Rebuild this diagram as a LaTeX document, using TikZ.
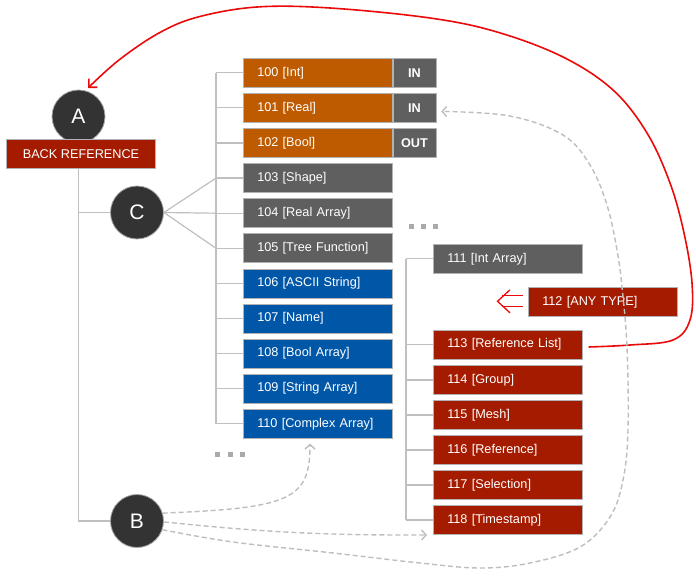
\documentclass[tikz,border=0pt]{standalone}
\usepackage{fontspec}
\setmainfont{Liberation Sans}
\usetikzlibrary{arrows.meta,calc}
\definecolor{orng}{RGB}{190,91,0}
\definecolor{gbox}{RGB}{95,95,95}
\definecolor{bbox}{RGB}{0,87,168}
\definecolor{rbox}{RGB}{165,27,0}
\definecolor{circ}{RGB}{51,51,51}
\definecolor{tline}{RGB}{192,192,192}
\definecolor{dline}{RGB}{190,190,190}
\definecolor{redc}{RGB}{235,10,10}
\definecolor{dotc}{RGB}{170,170,170}
\begin{document}
\begin{tikzpicture}[x=1pt,y=-1pt,
  tbox/.style={rectangle, anchor=west, minimum height=29pt, text width=121pt,
    inner xsep=14pt, inner ysep=0pt, align=left, text=white,
    font=\fontsize{12.7}{14}\selectfont, draw=black!30, line width=0.6pt},
  inbox/.style={rectangle, anchor=west, minimum height=29pt, minimum width=43pt,
    inner sep=0pt, fill=gbox, text=white, font=\fontsize{12.7}{14}\selectfont\bfseries,
    draw=black!30, line width=0.6pt},
  bigcirc/.style={circle, minimum size=53pt, inner sep=0pt, fill=circ, draw=black!35,
    line width=0.8pt, text=white, font=\fontsize{21}{24}\selectfont},
  tree/.style={draw=tline, line width=1.2pt},
  gdash/.style={draw=dline, line width=1.4pt, dash pattern=on 5pt off 3pt,
    -{Straight Barb[length=4.5pt,width=10pt,line width=1.4pt]}},
  redline/.style={draw=redc, line width=1.6pt,
    -{Straight Barb[length=6pt,width=12pt,line width=1.6pt]}},
  dotsq/.style={fill=dotc, minimum size=5pt, inner sep=0pt, rectangle}
]
\fill[white] (0,0) rectangle (696,577);
\useasboundingbox (0,0) rectangle (696,577);

% circles and back reference
\node[bigcirc] (A) at (78.5,116.5) {A};
\node[rectangle, minimum width=149.4pt, minimum height=29pt, inner sep=0pt, fill=rbox,
  draw=black!30, line width=0.6pt, text=white, font=\fontsize{12.7}{14}\selectfont]
  (br) at (81,153.8) {BACK REFERENCE};
\node[bigcirc] (C) at (137,212.5) {C};
\node[bigcirc] (B) at (137,521) {B};

% left column
\node[tbox, fill=orng] (n100) at (243,72.8) {100 [Int]};
\node[tbox, fill=orng] (n101) at (243,107.9) {101 [Real]};
\node[tbox, fill=orng] (n102) at (243,143.0) {102 [Bool]};
\node[inbox] (i100) at (n100.east) {IN};
\node[inbox] (i101) at (n101.east) {IN};
\node[inbox] (i102) at (n102.east) {OUT};
\node[tbox, fill=gbox] (n103) at (243,178.1) {103 [Shape]};
\node[tbox, fill=gbox] (n104) at (243,213.2) {104 [Real Array]};
\node[tbox, fill=gbox] (n105) at (243,248.3) {105 [Tree Function]};
\node[tbox, fill=bbox] (n106) at (243,283.4) {106 [ASCII String]};
\node[tbox, fill=bbox] (n107) at (243,318.5) {107 [Name]};
\node[tbox, fill=bbox] (n108) at (243,353.6) {108 [Bool Array]};
\node[tbox, fill=bbox] (n109) at (243,388.7) {109 [String Array]};
\node[tbox, fill=bbox] (n110) at (243,423.8) {110 [Complex Array]};

% right column
\node[tbox, fill=gbox] (n111) at (433,258.8) {111 [Int Array]};
\node[tbox, fill=rbox] (n112) at (528,301.8) {112 [ANY TYPE]};
\node[tbox, fill=rbox] (n113) at (433,344.5) {113 [Reference List]};
\node[tbox, fill=rbox] (n114) at (433,380) {114 [Group]};
\node[tbox, fill=rbox] (n115) at (433,415) {115 [Mesh]};
\node[tbox, fill=rbox] (n116) at (433,450) {116 [Reference]};
\node[tbox, fill=rbox] (n117) at (433,485) {117 [Selection]};
\node[tbox, fill=rbox] (n118) at (433,520) {118 [Timestamp]};

% ellipsis squares
\node[dotsq] (d1) at (411,227) {};
\node[dotsq] (d2) at (423,227) {};
\node[dotsq] (d3) at (435,227) {};
\node[dotsq] (d4) at (217.5,454) {};
\node[dotsq] (d5) at (230,454) {};
\node[dotsq] (d6) at (242.5,454) {};

% tree lines
\coordinate (lt0) at (78.5,0);
\coordinate (lt) at (216,0);
\coordinate (rt) at (406,0);
\draw[tree] (br.south -| lt0) -- (B.west -| lt0) -- (B.west);
\draw[tree] (C.west -| lt0) -- (C.west);
\draw[tree] (n100.west -| lt) -- (n110.west -| lt);
\foreach \n in {100,...,110} \draw[tree] (n\n.west) -- (n\n.west -| lt);
\draw[tree] (C.east) -- (n103.west -| lt);
\draw[tree] (C.east) -- (n104.west -| lt);
\draw[tree] (C.east) -- (n105.west -| lt);
\draw[tree] (n111.west -| rt) -- (n118.west -| rt);
\foreach \n in {111,113,114,115,116,117,118} \draw[tree] (n\n.west) -- (n\n.west -| rt);

% double arrow at 112
\coordinate (da) at ($(n112.west)+(-5,0)$);
\draw[redc, line width=1.3pt] ($(da)+(0,-6)$) -- ($(da)+(-21,-6)$);
\draw[redc, line width=1.3pt] ($(da)+(0,4.5)$) -- ($(da)+(-21,4.5)$);
\draw[redc, line width=1.3pt] ($(da)+(-13,-12)$) -- ($(da)+(-25.5,-0.5)$) -- ($(da)+(-13,11)$);

% red back reference curve
\coordinate (r0) at ($(n113.east)+(6,2.5)$);
\coordinate (r1) at ($(A)+(9.5,-28.5)$);
\draw[redline] plot[smooth, tension=0.6] coordinates {(r0) (630,345) (673,340) (690,320) (692,283) (684,233) (670,183) (647,133) (613,90) (563,57) (497,32) (430,18) (330,8) (257,7) (198,17) (159,33) (119,60) (r1)};

% gray dashed curves
\coordinate (g1) at ($(n110.south west)+(67,5)$);
\draw[gdash] (B.17) .. controls (290,508) and (310,500) .. (g1);
\coordinate (g2) at ($(n118.west)+(-6,15)$);
\draw[gdash] (B.-2) to[bend right=3] (g2);
\coordinate (g3) at ($(i101.east)+(5,3.5)$);
\draw[gdash] plot[smooth, tension=0.6] coordinates {(B.-19) (233,542) (333,553) (420,563) (480,568) (530,563) (580,547) (610,517) (623,480) (628,430) (627,347) (622,287) (617,250) (607,205) (590,165) (563,135) (510,116) (g3)};
\end{tikzpicture}
\end{document}
